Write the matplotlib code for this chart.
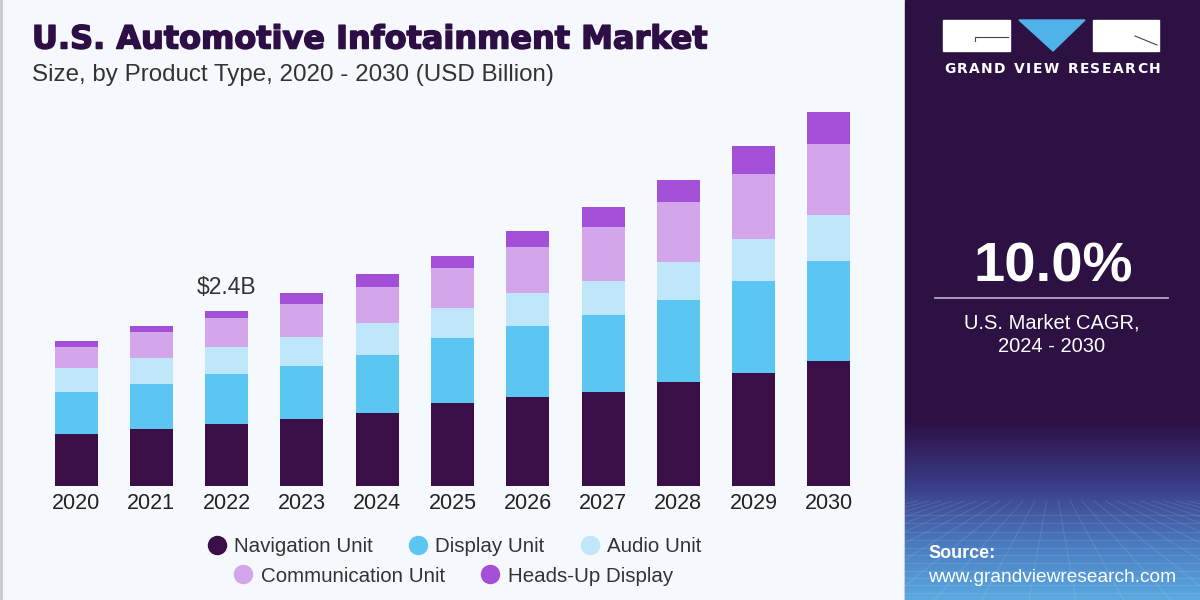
import matplotlib
matplotlib.use("Agg")
import matplotlib.pyplot as plt
import numpy as np
from matplotlib.patches import Rectangle, Polygon
from matplotlib.lines import Line2D
from matplotlib.colors import LinearSegmentedColormap
import matplotlib.patheffects as pe

years = ["2020", "2021", "2022", "2023", "2024", "2025", "2026", "2027", "2028", "2029", "2030"]
navigation = [0.72, 0.79, 0.86, 0.92, 1.01, 1.14, 1.23, 1.30, 1.43, 1.56, 1.72]
display = [0.57, 0.61, 0.69, 0.73, 0.80, 0.90, 0.97, 1.06, 1.14, 1.27, 1.38]
audio = [0.33, 0.36, 0.36, 0.40, 0.44, 0.41, 0.46, 0.47, 0.52, 0.57, 0.63]
communication = [0.30, 0.36, 0.40, 0.46, 0.50, 0.55, 0.63, 0.74, 0.83, 0.90, 0.99]
heads_up = [0.08, 0.08, 0.10, 0.15, 0.17, 0.17, 0.22, 0.28, 0.30, 0.39, 0.43]
series_names = ["Navigation Unit", "Display Unit", "Audio Unit", "Communication Unit", "Heads-Up Display"]
colors = ["#3a0f48", "#5bc6f2", "#bfe7f9", "#d3a5ea", "#a34fd8"]
annotation_text = "$2.4B"
annotation_year = "2022"

W, H = 1200, 600
fig = plt.figure(figsize=(12, 6), dpi=100)
fig.patch.set_facecolor("#f5f8fc")
LS = ["Liberation Sans", "DejaVu Sans"]

def fx(px):
    return px / W

def fy(py):
    return 1 - py / H

# Left thin border line
fig.add_artist(Line2D([fx(1), fx(1)], [0, 1], color="#c9c9c9", lw=2, transform=fig.transFigure))

# Main axes
left_px, right_px = 38.4, 866.6
bottom_px, top_px = 486, 87
ax = fig.add_axes([fx(left_px), fy(bottom_px), fx(right_px - left_px), (bottom_px - top_px) / H])
ax.set_facecolor("none")
x = np.arange(len(years))
bottom = np.zeros(len(years))
data = [navigation, display, audio, communication, heads_up]
for vals, c, name in zip(data, colors, series_names):
    ax.bar(x, vals, bottom=bottom, width=0.57, color=c, label=name, linewidth=0)
    bottom = bottom + np.array(vals)
ax.set_xlim(-0.5, len(years) - 0.5)
ax.set_ylim(0, 5.5)
ax.set_xticks(x)
ax.set_xticklabels(years, fontsize=15.5, color="#222222", family=LS)
ax.tick_params(axis="x", length=0, pad=5)
ax.set_yticks([])
for s in ax.spines.values():
    s.set_visible(False)

i = years.index(annotation_year)
ax.text(x[i], bottom[i] + 0.17, annotation_text, ha="center", va="bottom", fontsize=16.5,
        color="#333333", family=LS)

# Title and subtitle
fig.text(fx(32), fy(40), "U.S. Automotive Infotainment Market", fontsize=23, fontweight="bold",
         color="#2e0f45", va="center", ha="left", family=["DejaVu Sans"],
         path_effects=[pe.withStroke(linewidth=1.1, foreground="#2e0f45")])
fig.text(fx(32), fy(75), "Size, by Product Type, 2020 - 2030 (USD Billion)", fontsize=17.4,
         color="#333333", va="center", ha="left", family=LS)

# Legend (two rows)
handles = [Line2D([0], [0], marker="o", color="none", markerfacecolor=c, markeredgecolor=c, markersize=13)
           for c in colors]
leg_font = {"size": 14.8, "family": LS}
leg1 = fig.legend(handles[:3], series_names[:3], loc="center", bbox_to_anchor=(fx(454), fy(547)), ncol=3,
                  frameon=False, prop=leg_font, handletextpad=0.35, columnspacing=1.7, handlelength=1.0)
for t in leg1.get_texts():
    t.set_color("#333333")
leg2 = fig.legend(handles[3:], series_names[3:], loc="center", bbox_to_anchor=(fx(453), fy(576)), ncol=2,
                  frameon=False, prop=leg_font, handletextpad=0.35, columnspacing=1.7, handlelength=1.0)
for t in leg2.get_texts():
    t.set_color("#333333")

# Right panel
px0 = 905
panel_color = "#2c1142"
fig.add_artist(Rectangle((fx(px0), 0), 1 - fx(px0), 1, transform=fig.transFigure, color=panel_color, zorder=0))

# gradient at bottom of panel
gax = fig.add_axes([fx(px0), 0, 1 - fx(px0), (600 - 420) / H])
grad = np.linspace(0, 1, 200).reshape(-1, 1)
cmap = LinearSegmentedColormap.from_list("g", [(0, panel_color), (0.35, "#3a3a85"), (0.7, "#4a7cc0"), (1, "#5aaae0")])
gax.imshow(grad, aspect="auto", cmap=cmap, extent=[0, 1, 1, 0])
for k in np.linspace(-1.5, 2.5, 26):
    gax.plot([0.5 + (k - 0.5) * 0.25, k], [0.45, 1.0], color="white", alpha=0.10, lw=0.8)
for yy in np.linspace(0.45, 1.0, 12) ** 0.8:
    gax.plot([0, 1], [yy, yy], color="white", alpha=0.10, lw=0.8)
gax.set_xlim(0, 1)
gax.set_ylim(1, 0)
gax.axis("off")

# Logo
fig.add_artist(Rectangle((fx(943), fy(51)), fx(1010 - 943), (51 - 20) / H, transform=fig.transFigure,
                         color="white", zorder=3))
fig.add_artist(Line2D([fx(975), fx(975), fx(1008)], [fy(41), fy(37), fy(37)], color="#444444", lw=0.8,
                      transform=fig.transFigure, zorder=4))
fig.add_artist(Polygon([[fx(1019), fy(20)], [fx(1085), fy(20)], [fx(1053), fy(51)]], closed=True,
                       transform=fig.transFigure, color="#4fb3ea", zorder=3))
fig.add_artist(Rectangle((fx(1093), fy(51)), fx(1159 - 1093), (51 - 20) / H, transform=fig.transFigure,
                         color="white", zorder=3))
fig.add_artist(Line2D([fx(1135), fx(1157)], [fy(36), fy(45)], color="#444444", lw=0.8,
                      transform=fig.transFigure, zorder=4))

# letter-spaced logo text
logo_text = "GRAND VIEW RESEARCH"
renderer = fig.canvas.get_renderer()
char_w = []
for ch in logo_text:
    t = fig.text(0, 0, ch if ch != " " else "n", fontsize=10, fontweight="bold", family=["DejaVu Sans"])
    bb = t.get_window_extent(renderer)
    char_w.append(bb.width if ch != " " else bb.width * 0.6)
    t.remove()
total_w = 1160 - 944
spacing = (total_w - sum(char_w)) / (len(logo_text) - 1)
cx = 944
for ch, w in zip(logo_text, char_w):
    if ch != " ":
        fig.text(fx(cx), fy(69), ch, fontsize=10, fontweight="bold", color="white",
                 ha="left", va="center", family=["DejaVu Sans"])
    cx += w + spacing

# CAGR
fig.text(fx(1053), fy(268), "10.0%", fontsize=40.5, fontweight="bold", color="white",
         ha="center", va="center", family=LS)
fig.add_artist(Line2D([fx(935), fx(1168)], [fy(298), fy(298)], color="#b7a6c7", lw=1.3, transform=fig.transFigure))
fig.text(fx(1052), fy(323), "U.S. Market CAGR,", fontsize=14.5, color="white", ha="center", va="center", family=LS)
fig.text(fx(1052), fy(347), "2024 - 2030", fontsize=14.5, color="white", ha="center", va="center", family=LS)

# Source
fig.text(fx(928), fy(553), "Source:", fontsize=13, fontweight="bold", color="white", ha="left", va="center", family=LS)
fig.text(fx(928), fy(577), "www.grandviewresearch.com", fontsize=13.8, color="white", ha="left", va="center", family=LS)

fig.savefig("out.png", dpi=100, facecolor=fig.get_facecolor())
